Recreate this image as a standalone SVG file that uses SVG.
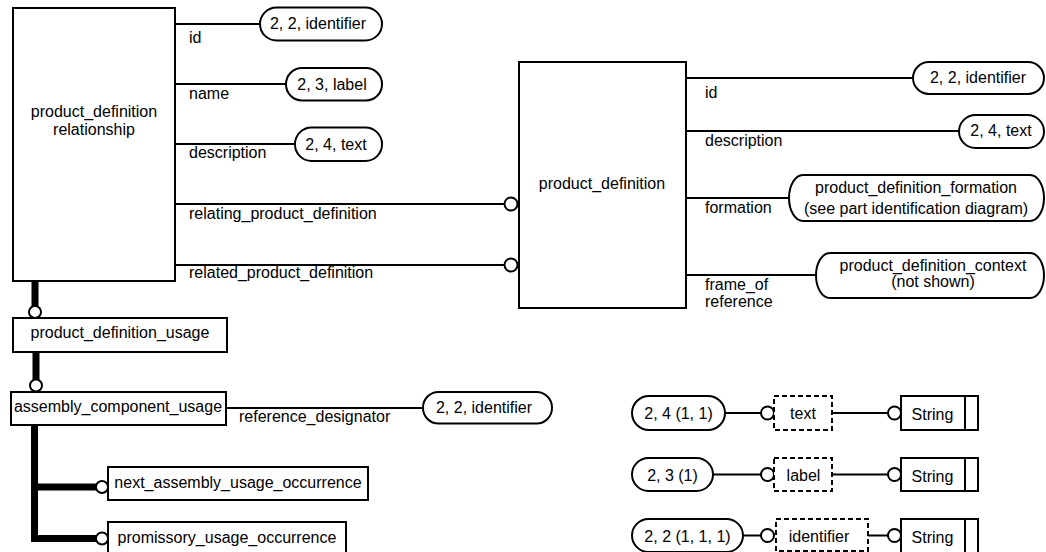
<svg xmlns="http://www.w3.org/2000/svg" width="1046" height="552" viewBox="0 0 1046 552">
  <style>
    text { font-family: "Liberation Sans", Arial, sans-serif; font-size: 16px; fill: #000; }
    .c { text-anchor: middle; }
    .box { fill: #fff; stroke: #000; stroke-width: 2; }
    .dash { fill: #fff; stroke: #000; stroke-width: 2; stroke-dasharray: 5 3; }
    .ln { fill: none; stroke: #000; stroke-width: 2; }
    .thick { fill: none; stroke: #000; stroke-width: 7; }
    .ring { fill: #fff; stroke: #000; stroke-width: 2; }
  </style>
  <rect width="1046" height="552" fill="#fff"/>

  <!-- connectors -->
  <g id="connectors">
    <!-- product_definition_relationship attributes -->
    <line class="ln" x1="175" y1="24" x2="260" y2="24"/>
    <line class="ln" x1="175" y1="84" x2="286" y2="84"/>
    <line class="ln" x1="175" y1="144" x2="295" y2="144"/>
    <line class="ln" x1="175" y1="204" x2="505" y2="204"/>
    <line class="ln" x1="175" y1="265" x2="505" y2="265"/>
    <circle class="ring" cx="511" cy="204" r="6.5"/>
    <circle class="ring" cx="511" cy="265" r="6.5"/>
    <text x="189" y="43">id</text>
    <text x="189" y="99">name</text>
    <text x="189" y="158">description</text>
    <text x="189" y="219">relating_product_definition</text>
    <text x="189" y="278">related_product_definition</text>

    <!-- product_definition attributes -->
    <line class="ln" x1="686" y1="78" x2="913" y2="78"/>
    <line class="ln" x1="686" y1="131" x2="959" y2="131"/>
    <line class="ln" x1="686" y1="198" x2="789" y2="198"/>
    <line class="ln" x1="686" y1="275" x2="816" y2="275"/>
    <text x="705" y="98">id</text>
    <text x="705" y="146">description</text>
    <text x="705" y="213">formation</text>
    <text x="705" y="290">frame_of</text>
    <text x="705" y="307">reference</text>

    <!-- subtype tree -->
    <line class="thick" x1="35" y1="281" x2="35" y2="312"/>
    <circle class="ring" cx="35" cy="312" r="6"/>
    <line class="thick" x1="36" y1="352" x2="36" y2="385.5"/>
    <circle class="ring" cx="36" cy="385.5" r="6"/>
    <path class="thick" d="M34.5 425 V538.5 H102 M34.5 487 H102"/>
    <circle class="ring" cx="102" cy="487" r="6"/>
    <circle class="ring" cx="102" cy="538.5" r="6"/>

    <!-- assembly_component_usage attribute -->
    <line class="ln" x1="226" y1="408" x2="423" y2="408"/>
    <text x="239" y="422">reference_designator</text>

    <!-- defined types to String -->
    <line class="ln" x1="725" y1="413" x2="761" y2="413"/>
    <circle class="ring" cx="767.5" cy="413" r="6.5"/>
    <line class="ln" x1="832" y1="413" x2="888" y2="413"/>
    <circle class="ring" cx="894.5" cy="413" r="6.5"/>

    <line class="ln" x1="713" y1="474.5" x2="761" y2="474.5"/>
    <circle class="ring" cx="767.5" cy="474.5" r="6.5"/>
    <line class="ln" x1="832" y1="474.5" x2="888" y2="474.5"/>
    <circle class="ring" cx="894.5" cy="474.5" r="6.5"/>

    <line class="ln" x1="743" y1="535.5" x2="761" y2="535.5"/>
    <circle class="ring" cx="767.5" cy="535.5" r="6.5"/>
    <line class="ln" x1="868" y1="535.5" x2="888" y2="535.5"/>
    <circle class="ring" cx="894.5" cy="535.5" r="6.5"/>
  </g>

  <!-- entities -->
  <g id="product_definition_relationship">
    <rect class="box" x="13" y="8" width="162" height="273"/>
    <text class="c" x="94" y="117">product_definition</text>
    <text class="c" x="94" y="135">relationship</text>
  </g>
  <g id="pdr_id_type">
    <rect class="box" x="260" y="7.5" width="122" height="33" rx="16.5"/>
    <text class="c" x="318" y="29">2, 2, identifier</text>
  </g>
  <g id="pdr_name_type">
    <rect class="box" x="286" y="68" width="96" height="32.5" rx="16"/>
    <text class="c" x="332" y="90">2, 3, label</text>
  </g>
  <g id="pdr_description_type">
    <rect class="box" x="295" y="127.5" width="87" height="33.5" rx="16.5"/>
    <text class="c" x="336" y="150">2, 4, text</text>
  </g>

  <g id="product_definition">
    <rect class="box" x="519" y="62" width="167" height="246"/>
    <text class="c" x="602" y="189">product_definition</text>
  </g>
  <g id="pd_id_type">
    <rect class="box" x="913" y="62" width="131" height="32" rx="16"/>
    <text class="c" x="978" y="83">2, 2, identifier</text>
  </g>
  <g id="pd_description_type">
    <rect class="box" x="959" y="115" width="85" height="33" rx="16.5"/>
    <text class="c" x="1001" y="136">2, 4, text</text>
  </g>
  <g id="product_definition_formation">
    <rect class="box" x="789" y="175" width="255" height="46" rx="14" ry="23"/>
    <text class="c" x="916" y="193">product_definition_formation</text>
    <text class="c" x="916" y="214">(see part identification diagram)</text>
  </g>
  <g id="product_definition_context">
    <rect class="box" x="816" y="253" width="228" height="45" rx="14" ry="22.5"/>
    <text class="c" x="933" y="271">product_definition_context</text>
    <text class="c" x="933" y="287">(not shown)</text>
  </g>

  <g id="product_definition_usage">
    <rect class="box" x="13" y="318" width="214" height="34"/>
    <text class="c" x="120" y="338">product_definition_usage</text>
  </g>
  <g id="assembly_component_usage">
    <rect class="box" x="11" y="392" width="215" height="33"/>
    <text class="c" x="118" y="412">assembly_component_usage</text>
  </g>
  <g id="acu_reference_designator_type">
    <rect class="box" x="423" y="392" width="129" height="31.5" rx="15.5"/>
    <text class="c" x="484" y="413">2, 2, identifier</text>
  </g>
  <g id="next_assembly_usage_occurrence">
    <rect class="box" x="108" y="467" width="260" height="33"/>
    <text class="c" x="238" y="488">next_assembly_usage_occurrence</text>
  </g>
  <g id="promissory_usage_occurrence">
    <rect class="box" x="108" y="522" width="238" height="40"/>
    <text class="c" x="227" y="543">promissory_usage_occurrence</text>
  </g>

  <!-- defined types -->
  <g id="text_ref">
    <rect class="box" x="632" y="396" width="93" height="34" rx="17"/>
    <text class="c" x="678.5" y="419">2, 4 (1, 1)</text>
  </g>
  <g id="text">
    <rect class="dash" x="774" y="396" width="58" height="34"/>
    <text class="c" x="803" y="419">text</text>
  </g>
  <g id="text_string">
    <rect class="box" x="901" y="396" width="77" height="34"/>
    <line class="ln" x1="965" y1="396" x2="965" y2="430"/>
    <text class="c" x="932.5" y="420">String</text>
  </g>

  <g id="label_ref">
    <rect class="box" x="632" y="458" width="81" height="33" rx="16.5"/>
    <text class="c" x="672.5" y="480.5">2, 3 (1)</text>
  </g>
  <g id="label">
    <rect class="dash" x="774" y="458" width="58" height="33"/>
    <text class="c" x="803.5" y="480.5">label</text>
  </g>
  <g id="label_string">
    <rect class="box" x="901" y="458" width="77" height="33"/>
    <line class="ln" x1="965" y1="458" x2="965" y2="491"/>
    <text class="c" x="932.5" y="481.5">String</text>
  </g>

  <g id="identifier_ref">
    <rect class="box" x="632" y="519" width="111" height="33" rx="16.5"/>
    <text class="c" x="687.5" y="541.5">2, 2 (1, 1, 1)</text>
  </g>
  <g id="identifier">
    <rect class="dash" x="776" y="519" width="92" height="32"/>
    <text class="c" x="819" y="541.5">identifier</text>
  </g>
  <g id="identifier_string">
    <rect class="box" x="901" y="519" width="77" height="34"/>
    <line class="ln" x1="965" y1="519" x2="965" y2="553"/>
    <text class="c" x="932.5" y="542.5">String</text>
  </g>
</svg>
